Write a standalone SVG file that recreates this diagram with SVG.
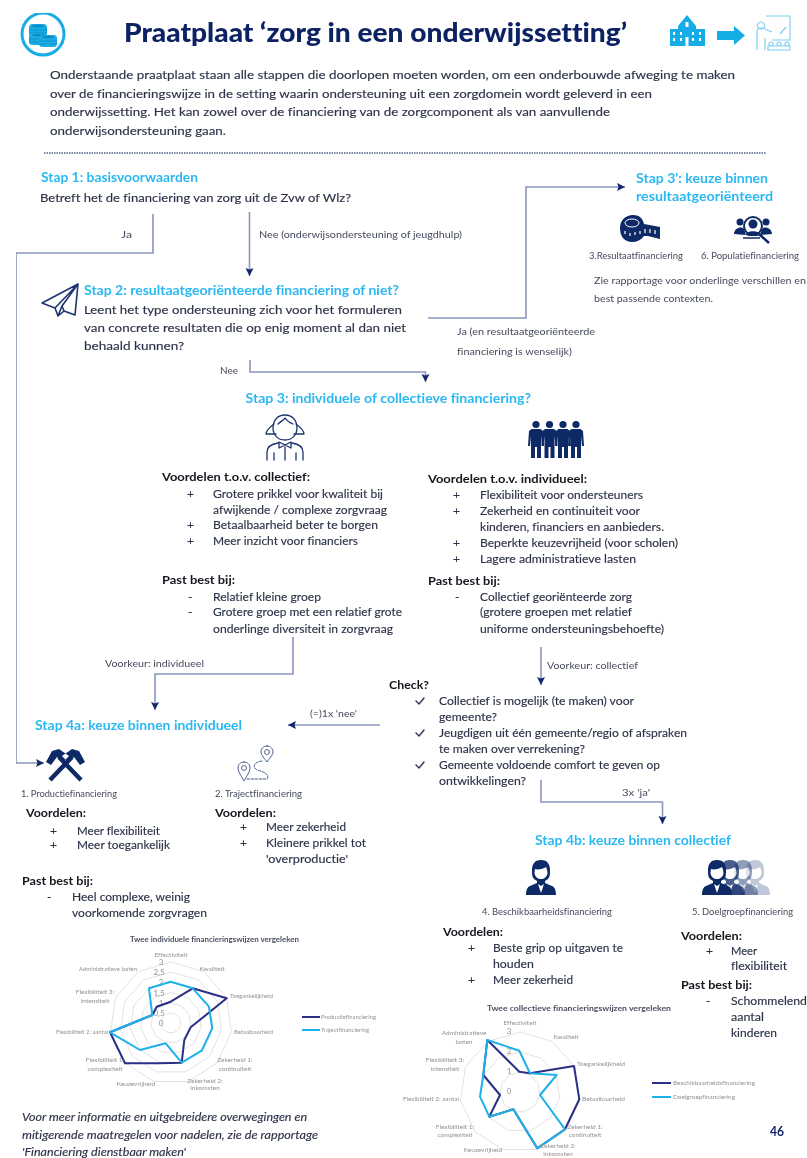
<svg xmlns="http://www.w3.org/2000/svg" xmlns:xlink="http://www.w3.org/1999/xlink" width="807" height="1158" viewBox="0 0 807 1158">
<style>
text{font-family:"Lato","Open Sans","Liberation Sans",sans-serif;fill:#2c3348;font-variant-ligatures:none}
.b{font-size:12px;stroke:#2c3348;stroke-width:.15}
.h{font-size:13.5px;font-weight:700;fill:#2cb8f3}
.s{font-size:12px;font-weight:700;fill:#14161f}
.l{font-size:9px;fill:#454a5c}
.t{font-size:7.5px;fill:#4a4f60}
.g{font-size:6.5px;fill:#929292}
.sc{font-size:8px;fill:#929292;text-anchor:middle}
.m{text-anchor:middle}
.ca{fill:none;stroke:#8a96bb;stroke-width:1.6;marker-end:url(#ah)}
.ring{fill:none;stroke:#e2e2e2;stroke-width:1;vector-effect:non-scaling-stroke}
.dk{fill:none;stroke:#2a2f85;stroke-width:2;stroke-linejoin:round}
.lt{fill:none;stroke:#1eb1ea;stroke-width:2;stroke-linejoin:round}
.nv{fill:#0f2a66}
.ol{fill:none;stroke:#1d3470;stroke-width:1.3;stroke-linejoin:round;stroke-linecap:round}
.cy{fill:#19ace6}
.co{fill:none;stroke:#7fd0f2;stroke-width:1.2}
</style>
<defs>
<filter id="soft" x="0" y="0" width="100%" height="100%" filterUnits="objectBoundingBox"><feGaussianBlur stdDeviation="0.4"/></filter>
<marker id="ah" markerUnits="userSpaceOnUse" markerWidth="9" markerHeight="9" refX="8" refY="4" orient="auto"><path d="M0 0L8 4L0 8L1.500 4Z" fill="#16286a"/></marker>
<polygon id="ring" class="ring" points="0,-1 .5406,-.8413 .9096,-.4154 .9898,.1423 .7557,.6549 .2817,.9595 -.2817,.9595 -.7557,.6549 -.9898,.1423 -.9096,-.4154 -.5406,-.8413"/>
<g id="fig"><circle cx="0" cy="4.500" r="3.600"/><path d="M-4.500 9H4.500L7 11L8 26H6L5 16V38H1V27H-1V38H-5V16L-6 26H-8L-7 11Z"/></g>
<g id="bust"><path d="M0 0C-7 0-9 5-9 10C-9 14-9 17-7 19L-4 21V23L-11 26C-14 27-15 31-15 35H15C15 31 14 27 11 26L4 23V21L7 19C9 17 9 14 9 10C9 5 7 0 0 0Z"/><path d="M-6 9C-3 10 2 9 5 7C6 9 6.500 11 6.500 13C6 17 3 19 0 19C-3 19-6 17-6.500 13Z" fill="#fff"/><path d="M-3 24L0 33L3 24L0 26Z" fill="#fff"/></g>
<g id="coin"><rect x="-9" y="-4" width="18" height="12" rx="3.500"/><ellipse cx="0" cy="-2" rx="6" ry="1.300" fill="#0e8cc4"/><path d="M-9 2H9M-9 5H9" stroke="#0e8cc4" stroke-width=".9"/></g>
</defs>
<rect width="807" height="1158" fill="#fff"/>
<g filter="url(#soft)">

<g id="logo">
<circle cx="43" cy="34" r="21" fill="none" stroke="#19ace6" stroke-width="3"/>
<use xlink:href="#coin" href="#coin" x="38" y="28" class="cy"/>
<use xlink:href="#coin" href="#coin" x="38" y="37" class="cy"/>
<use xlink:href="#coin" href="#coin" x="48" y="39" class="cy"/>
</g>
<g id="title"><text x="124" y="42" textLength="503" lengthAdjust="spacingAndGlyphs" style="font-size:27px;font-weight:900;fill:#0f2464">Praatplaat ‘zorg in een onderwijssetting’</text></g>
<g id="header-icons">
<path class="cy" d="M670 29H678V26L687 15L696 26V29H705V46H670Z"/>
<path d="M673 32h2v3h-2zM673 38h2v3h-2zM680 32h2v3h-2zM680 38h2v3h-2zM692 32h2v3h-2zM692 38h2v3h-2zM699 32h2v3h-2zM699 38h2v3h-2zM685.500 37h3v9h-3zM685.500 22h3v5h-3z" fill="#fff"/>
<path class="cy" d="M717 31H734V26L745 35.500L734 45V40H717Z"/>
<path class="co" d="M766 16H790V40H772M780 34L786 27M757 50V32C757 29 759 28 762 28C765 28 767 31 772 32M765 38V50M761 22a3.500 3.500 0 1 0 .01 0Z"/>
<path class="co" d="M768 46h22v4h-22zM771 46a2 2 0 1 1 .01 0M779 46a2 2 0 1 1 .01 0M787 46a2 2 0 1 1 .01 0"/>
</g>
<g id="intro">
<text class="b" x="50" y="79" textLength="685" lengthAdjust="spacingAndGlyphs">Onderstaande praatplaat staan alle stappen die doorlopen moeten worden, om een onderbouwde afweging te maken</text>
<text class="b" x="50" y="98" textLength="602" lengthAdjust="spacingAndGlyphs">over de financieringswijze in de setting waarin ondersteuning uit een zorgdomein wordt geleverd in een</text>
<text class="b" x="50" y="116" textLength="560" lengthAdjust="spacingAndGlyphs">onderwijssetting. Het kan zowel over de financiering van de zorgcomponent als van aanvullende</text>
<text class="b" x="50" y="135" textLength="176" lengthAdjust="spacingAndGlyphs">onderwijsondersteuning gaan.</text>
<line x1="44" y1="153" x2="766" y2="153" stroke="#7f8aab" stroke-width="2" stroke-dasharray="1.500 1"/>
</g>

<g id="connectors">
<path class="ca" d="M153 214V253H16V763H44"/>
<path class="ca" d="M249.500 212V276"/>
<path class="ca" d="M250 360V372H425.500V382"/>
<path class="ca" d="M428 318H526V187H625"/>
<path class="ca" d="M293 637V674H155V710"/>
<path class="ca" d="M541 647V685"/>
<path class="ca" d="M380 725H288"/>
<path class="ca" d="M541 780V802H662.500V824"/>
<text class="l" x="121" y="238" textLength="11" lengthAdjust="spacingAndGlyphs">Ja</text>
<text class="l" x="259" y="238" textLength="203" lengthAdjust="spacingAndGlyphs">Nee (onderwijsondersteuning of jeugdhulp)</text>
<text class="l" x="220" y="374" textLength="18" lengthAdjust="spacingAndGlyphs">Nee</text>
<text class="l" x="457" y="335" textLength="138" lengthAdjust="spacingAndGlyphs">Ja (en resultaatgeoriënteerde</text>
<text class="l" x="457" y="355" textLength="115" lengthAdjust="spacingAndGlyphs">financiering is wenselijk)</text>
<text class="l" x="105" y="667" textLength="99" lengthAdjust="spacingAndGlyphs">Voorkeur: individueel</text>
<text class="l" x="547" y="669" textLength="91" lengthAdjust="spacingAndGlyphs">Voorkeur: collectief</text>
<text class="l" x="310" y="717" textLength="47" lengthAdjust="spacingAndGlyphs">(=)1x 'nee'</text>
<text class="l" x="622" y="796" textLength="28" lengthAdjust="spacingAndGlyphs">3x 'ja'</text>
</g>

<g id="stap1">
<text class="h" x="41" y="182" textLength="157" lengthAdjust="spacingAndGlyphs">Stap 1: basisvoorwaarden</text>
<text class="b" x="40" y="202" textLength="311" lengthAdjust="spacingAndGlyphs">Betreft het de financiering van zorg uit de Zvw of Wlz?</text>
</g>
<g id="stap2">
<path class="ol" style="stroke-width:1.600" d="M78 284L42 303L55 308L58 316L64 311L75 315ZM78 284L55 308M78 284L62 306L64 311M62 306L58 316"/>
<text class="h" x="84" y="295" textLength="315" lengthAdjust="spacingAndGlyphs">Stap 2: resultaatgeoriënteerde financiering of niet?</text>
<text class="b" x="84" y="314" textLength="318" lengthAdjust="spacingAndGlyphs">Leent het type ondersteuning zich voor het formuleren</text>
<text class="b" x="84" y="332" textLength="322" lengthAdjust="spacingAndGlyphs">van concrete resultaten die op enig moment al dan niet</text>
<text class="b" x="84" y="350" textLength="100" lengthAdjust="spacingAndGlyphs">behaald kunnen?</text>
</g>
<g id="stap3accent">
<text class="h" x="636" y="183" textLength="132" lengthAdjust="spacingAndGlyphs">Stap 3': keuze binnen</text>
<text class="h" x="636" y="201" textLength="137" lengthAdjust="spacingAndGlyphs">resultaatgeoriënteerd</text>
<g id="tape">
<path class="nv" d="M620 228C620 220 626 215 633 215C640 215 643 219 644 224L660 227V239L648 236L644 236C641 240 637 242 632 242C625 242 620 237 620 228Z"/>
<ellipse cx="632" cy="223" rx="7" ry="4" fill="none" stroke="#fff" stroke-width="1"/>
<path d="M625 231v3M630 233v3M635 232v3M640 231v3M645 229v4M650 229v4M655 230v4" stroke="#fff" stroke-width="1.200"/>
</g>
<g id="populatie">
<circle cx="753" cy="226" r="9" fill="none" stroke="#0f2a66" stroke-width="2"/>
<circle cx="753" cy="224" r="4.500" class="nv"/>
<path class="nv" d="M746 235C746 230 760 230 760 235L757 236H749Z"/>
<circle cx="740" cy="222" r="3.500" class="nv"/><circle cx="766" cy="222" r="3.500" class="nv"/>
<path class="nv" d="M734 234C734 227 743 226 744 229L746 235ZM772 234C772 227 763 226 762 229L760 235Z"/>
<path d="M759 234L769 243" stroke="#0f2a66" stroke-width="2.500"/>
<path d="M743 238H760" stroke="#0f2a66" stroke-width="1.500"/>
</g>
<text class="l" x="589" y="259" textLength="94" lengthAdjust="spacingAndGlyphs">3.Resultaatfinanciering</text>
<text class="l" x="701" y="259" textLength="98" lengthAdjust="spacingAndGlyphs">6. Populatiefinanciering</text>
<text class="l" x="594" y="284" style="font-size:10px" textLength="212" lengthAdjust="spacingAndGlyphs">Zie rapportage voor onderlinge verschillen en</text>
<text class="l" x="594" y="302" style="font-size:10px" textLength="119" lengthAdjust="spacingAndGlyphs">best passende contexten.</text>
</g>
<g id="stap3">
<text class="h" x="245.500" y="403" textLength="285.500" lengthAdjust="spacingAndGlyphs">Stap 3: individuele of collectieve financiering?</text>
</g>
<g id="collectief-links">
<g id="persoon">
<path class="ol" d="M273 428C273 420 278 415 285 415C292 415 297 420 297 428C297 435 292 440 285 440C278 440 273 435 273 428Z"/>
<path class="ol" d="M274 424C270 427 266 431 266 434H276M296 424C300 427 304 431 304 434H294M278 424C281 421 284 420 285 418C287 421 290 423 293 424"/>
<path class="ol" d="M267 460V452C267 447 272 444 278 443M303 460V452C303 447 298 444 292 443M274 453V460M296 453V460M285 447V460M279 442L285 445L291 442V448L285 445L279 448Z"/>
</g>
<text class="s" x="162" y="481" textLength="148" lengthAdjust="spacingAndGlyphs">Voordelen t.o.v. collectief:</text>
<text class="b" x="187" y="498">+</text>
<text class="b" x="213" y="498" textLength="170" lengthAdjust="spacingAndGlyphs">Grotere prikkel voor kwaliteit bij</text>
<text class="b" x="213" y="514" textLength="174" lengthAdjust="spacingAndGlyphs">afwijkende / complexe zorgvraag</text>
<text class="b" x="187" y="529">+</text>
<text class="b" x="213" y="529" textLength="165" lengthAdjust="spacingAndGlyphs">Betaalbaarheid beter te borgen</text>
<text class="b" x="187" y="545">+</text>
<text class="b" x="213" y="545" textLength="145" lengthAdjust="spacingAndGlyphs">Meer inzicht voor financiers</text>
<text class="s" x="162" y="584" textLength="73" lengthAdjust="spacingAndGlyphs">Past best bij:</text>
<text class="b" x="188" y="601">-</text>
<text class="b" x="213" y="601" textLength="108" lengthAdjust="spacingAndGlyphs">Relatief kleine groep</text>
<text class="b" x="188" y="616">-</text>
<text class="b" x="213" y="616" textLength="189" lengthAdjust="spacingAndGlyphs">Grotere groep met een relatief grote</text>
<text class="b" x="213" y="633" textLength="180" lengthAdjust="spacingAndGlyphs">onderlinge diversiteit in zorgvraag</text>
</g>
<g id="collectief-rechts">
<g id="groep" class="nv">
<use xlink:href="#fig" href="#fig" x="536" y="420"/>
<use xlink:href="#fig" href="#fig" x="549.500" y="420"/>
<use xlink:href="#fig" href="#fig" x="563" y="420"/>
<use xlink:href="#fig" href="#fig" x="576" y="420"/>
</g>
<text class="s" x="428" y="483" textLength="159" lengthAdjust="spacingAndGlyphs">Voordelen t.o.v. individueel:</text>
<text class="b" x="453" y="499">+</text>
<text class="b" x="480" y="499" textLength="163" lengthAdjust="spacingAndGlyphs">Flexibiliteit voor ondersteuners</text>
<text class="b" x="453" y="515">+</text>
<text class="b" x="480" y="515" textLength="160" lengthAdjust="spacingAndGlyphs">Zekerheid en continuiteit voor</text>
<text class="b" x="480" y="531" textLength="184" lengthAdjust="spacingAndGlyphs">kinderen, financiers en aanbieders.</text>
<text class="b" x="453" y="547">+</text>
<text class="b" x="480" y="547" textLength="198" lengthAdjust="spacingAndGlyphs">Beperkte keuzevrijheid (voor scholen)</text>
<text class="b" x="453" y="563">+</text>
<text class="b" x="480" y="563" textLength="156" lengthAdjust="spacingAndGlyphs">Lagere administratieve lasten</text>
<text class="s" x="428" y="585" textLength="72" lengthAdjust="spacingAndGlyphs">Past best bij:</text>
<text class="b" x="455" y="601">-</text>
<text class="b" x="480" y="601" textLength="152" lengthAdjust="spacingAndGlyphs">Collectief georiënteerde zorg</text>
<text class="b" x="480" y="616" textLength="152" lengthAdjust="spacingAndGlyphs">(grotere groepen met relatief</text>
<text class="b" x="480" y="633" textLength="184" lengthAdjust="spacingAndGlyphs">uniforme ondersteuningsbehoefte)</text>
</g>
<g id="check">
<text class="s" x="389" y="689" textLength="40" lengthAdjust="spacingAndGlyphs">Check?</text>
<path class="ol" style="stroke-width:1.400;stroke:#30364f" d="M416 701L419 704L424 698M416 733L419 736L424 730M416 765L419 768L424 762"/>
<text class="b" x="439" y="705" textLength="195" lengthAdjust="spacingAndGlyphs">Collectief is mogelijk (te maken) voor</text>
<text class="b" x="439" y="721" textLength="58" lengthAdjust="spacingAndGlyphs">gemeente?</text>
<text class="b" x="439" y="737" textLength="248" lengthAdjust="spacingAndGlyphs">Jeugdigen uit één gemeente/regio of afspraken</text>
<text class="b" x="439" y="753" textLength="146" lengthAdjust="spacingAndGlyphs">te maken over verrekening?</text>
<text class="b" x="439" y="769" textLength="221" lengthAdjust="spacingAndGlyphs">Gemeente voldoende comfort te geven op</text>
<text class="b" x="439" y="785" textLength="87" lengthAdjust="spacingAndGlyphs">ontwikkelingen?</text>
</g>
<g id="stap4a">
<text class="h" x="35" y="730" textLength="207" lengthAdjust="spacingAndGlyphs">Stap 4a: keuze binnen individueel</text>
<g id="hamers">
<path d="M50 780L72 757M81 780L59 757" stroke="#0f2a66" stroke-width="4.500"/>
<path class="nv" d="M62 756L72 749L79 751L85 762L80 765L74 757L68 762ZM69 756L59 749L52 751L46 762L51 765L57 757L63 762Z"/>
</g>
<g id="kaart" style="opacity:.8">
<path class="ol" style="stroke-width:1" d="M267 746C263 746 261 749 261 752C261 755 265 759 267 762C269 759 273 755 273 752C273 749 271 746 267 746ZM244 762C240 762 238 765 238 768C238 772 242 777 244 781C246 777 250 772 250 768C250 765 248 762 244 762Z"/>
<path class="ol" style="stroke-width:1;stroke-dasharray:2.500 1.500" d="M262 761C254 762 252 767 257 770C265 772 270 775 267 779H246"/>
<circle cx="244" cy="768" r="2.500" class="ol" style="stroke-width:.9"/><circle cx="267" cy="752" r="2.500" class="ol" style="stroke-width:.9"/>
</g>
<text class="l" x="21" y="797" textLength="96" lengthAdjust="spacingAndGlyphs">1. Productiefinanciering</text>
<text class="l" x="215" y="797" textLength="87" lengthAdjust="spacingAndGlyphs">2. Trajectfinanciering</text>
<text class="s" x="26" y="817" textLength="60" lengthAdjust="spacingAndGlyphs">Voordelen:</text>
<text class="b" x="50" y="835">+</text>
<text class="b" x="77" y="835" textLength="83" lengthAdjust="spacingAndGlyphs">Meer flexibiliteit</text>
<text class="b" x="50" y="849">+</text>
<text class="b" x="77" y="849" textLength="93" lengthAdjust="spacingAndGlyphs">Meer toegankelijk</text>
<text class="s" x="215" y="817" textLength="61" lengthAdjust="spacingAndGlyphs">Voordelen:</text>
<text class="b" x="240" y="831">+</text>
<text class="b" x="266" y="831" textLength="80" lengthAdjust="spacingAndGlyphs">Meer zekerheid</text>
<text class="b" x="240" y="847">+</text>
<text class="b" x="266" y="847" textLength="100" lengthAdjust="spacingAndGlyphs">Kleinere prikkel tot</text>
<text class="b" x="266" y="863" textLength="82" lengthAdjust="spacingAndGlyphs">'overproductie'</text>
<text class="s" x="22" y="885" textLength="71" lengthAdjust="spacingAndGlyphs">Past best bij:</text>
<text class="b" x="47" y="901">-</text>
<text class="b" x="72" y="901" textLength="118" lengthAdjust="spacingAndGlyphs">Heel complexe, weinig</text>
<text class="b" x="72" y="917" textLength="135" lengthAdjust="spacingAndGlyphs">voorkomende zorgvragen</text>
</g>
<g id="stap4b">
<text class="h" x="535" y="845" textLength="196" lengthAdjust="spacingAndGlyphs">Stap 4b: keuze binnen collectief</text>
<g class="nv"><use xlink:href="#bust" href="#bust" x="541" y="860"/></g>
<g class="nv">
<use xlink:href="#bust" href="#bust" x="755" y="860" opacity=".25"/>
<use xlink:href="#bust" href="#bust" x="743" y="860" opacity=".45"/>
<use xlink:href="#bust" href="#bust" x="730" y="860" opacity=".75"/>
<use xlink:href="#bust" href="#bust" x="717" y="860"/>
</g>
<text class="l" x="482" y="915" textLength="130" lengthAdjust="spacingAndGlyphs">4. Beschikbaarheidsfinanciering</text>
<text class="l" x="692" y="915" textLength="101" lengthAdjust="spacingAndGlyphs">5. Doelgroepfinanciering</text>
<text class="s" x="443" y="936" textLength="60" lengthAdjust="spacingAndGlyphs">Voordelen:</text>
<text class="b" x="468" y="952">+</text>
<text class="b" x="493" y="952" textLength="130" lengthAdjust="spacingAndGlyphs">Beste grip op uitgaven te</text>
<text class="b" x="493" y="968" textLength="41" lengthAdjust="spacingAndGlyphs">houden</text>
<text class="b" x="468" y="984">+</text>
<text class="b" x="493" y="984" textLength="80" lengthAdjust="spacingAndGlyphs">Meer zekerheid</text>
<text class="s" x="681" y="940" textLength="61" lengthAdjust="spacingAndGlyphs">Voordelen:</text>
<text class="b" x="706" y="955">+</text>
<text class="b" x="731" y="955" textLength="26" lengthAdjust="spacingAndGlyphs">Meer</text>
<text class="b" x="731" y="970" textLength="56" lengthAdjust="spacingAndGlyphs">flexibiliteit</text>
<text class="s" x="681" y="989" textLength="71" lengthAdjust="spacingAndGlyphs">Past best bij:</text>
<text class="b" x="706" y="1005">-</text>
<text class="b" x="731" y="1005" textLength="76" lengthAdjust="spacingAndGlyphs">Schommelend</text>
<text class="b" x="731" y="1021" textLength="33" lengthAdjust="spacingAndGlyphs">aantal</text>
<text class="b" x="731" y="1037" textLength="46" lengthAdjust="spacingAndGlyphs">kinderen</text>
</g>

<g id="grafiek-individueel">
<text class="t" x="130" y="942" textLength="169" lengthAdjust="spacingAndGlyphs" style="font-weight:700">Twee individuele financieringswijzen vergeleken</text>
<use xlink:href="#ring" href="#ring" transform="translate(171 1023) scale(61)"/>
<use xlink:href="#ring" href="#ring" transform="translate(171 1023) scale(51)"/>
<use xlink:href="#ring" href="#ring" transform="translate(171 1023) scale(41)"/>
<use xlink:href="#ring" href="#ring" transform="translate(171 1023) scale(30.500)"/>
<use xlink:href="#ring" href="#ring" transform="translate(171 1023) scale(20)"/>
<use xlink:href="#ring" href="#ring" transform="translate(171 1023) scale(10)"/>
<text class="sc" x="161" y="965">3</text><text class="sc" x="159" y="975">2,5</text><text class="sc" x="161" y="985">2</text><text class="sc" x="159" y="996">1,5</text><text class="sc" x="161" y="1006">1</text><text class="sc" x="159" y="1016">0,5</text><text class="sc" x="161" y="1026">0</text>
<polygon class="dk" points="226.700,998.300 192.700,988.300 170.700,1001.700 156.700,1006.700 152.300,1015 110,1032.300 125,1063.300 159,1063.300 181.700,1062.700 184.300,1040 190.700,1027.300"/>
<polygon class="lt" points="170.700,981.700 192.700,988.300 209,1006.700 212.300,1028.300 201.700,1050.700 181.700,1062.700 165.700,1043.300 140,1050 110,1032.300 152.300,1015 149,988.300"/>
<text class="g m" x="171" y="957">Effectiviteit</text>
<text class="g m" x="212" y="971">Kwaliteit</text>
<text class="g" x="230" y="998" textLength="43" lengthAdjust="spacingAndGlyphs">Toegankelijkheid</text>
<text class="g" x="234" y="1034" textLength="39" lengthAdjust="spacingAndGlyphs">Betaalbaarheid</text>
<text class="g m" x="235" y="1062">Zekerheid 1:</text><text class="g m" x="235" y="1071">continuïteit</text>
<text class="g m" x="205" y="1083">Zekerheid 2:</text><text class="g m" x="205" y="1090">inkomsten</text>
<text class="g m" x="136" y="1086">Keuzevrijheid</text>
<text class="g m" x="105" y="1062">Flexibiliteit 1:</text><text class="g m" x="105" y="1071">complexiteit</text>
<text class="g" x="56" y="1034" textLength="52" lengthAdjust="spacingAndGlyphs">Flexibiliteit 2: aantal</text>
<text class="g m" x="95" y="994">Flexibiliteit 3:</text><text class="g m" x="95" y="1003">intensiteit</text>
<text class="g" x="79" y="971" textLength="58" lengthAdjust="spacingAndGlyphs">Administratieve lasten</text>
<line x1="302" y1="1017" x2="320" y2="1017" class="dk"/>
<text class="g" x="321" y="1019" textLength="55" lengthAdjust="spacingAndGlyphs">Productiefinanciering</text>
<line x1="302" y1="1030" x2="320" y2="1030" class="lt"/>
<text class="g" x="321" y="1032" textLength="48" lengthAdjust="spacingAndGlyphs">Trajectfinanciering</text>
</g>

<g id="grafiek-collectief">
<text class="t" x="487" y="1011" textLength="184" lengthAdjust="spacingAndGlyphs" style="font-weight:700">Twee collectieve financieringswijzen vergeleken</text>
<use xlink:href="#ring" href="#ring" transform="translate(520 1092) scale(60)"/>
<use xlink:href="#ring" href="#ring" transform="translate(520 1092) scale(40)"/>
<use xlink:href="#ring" href="#ring" transform="translate(520 1092) scale(20)"/>
<text class="sc" x="509" y="1034">3</text><text class="sc" x="509" y="1054">2</text><text class="sc" x="509" y="1074">1</text><text class="sc" x="509" y="1094">0</text>
<polygon class="dk" points="487.300,1040 519.300,1071.700 530,1073.300 574,1066 579.300,1099.300 565,1129.300 537.300,1148.300 513.300,1109.300 489.300,1116.700 500,1095 483.300,1075"/>
<polygon class="lt" points="487.300,1040 519.300,1050.700 530,1073.300 556.700,1075 540,1095 565,1129.300 537.300,1148.300 513.300,1109.300 489.300,1116.700 480,1096.700 483.300,1075"/>
<text class="g m" x="520" y="1025">Effectiviteit</text>
<text class="g m" x="566" y="1039">Kwaliteit</text>
<text class="g" x="577" y="1066" textLength="48" lengthAdjust="spacingAndGlyphs">Toegankelijkheid</text>
<text class="g" x="582" y="1101" textLength="43" lengthAdjust="spacingAndGlyphs">Betaalbaarheid</text>
<text class="g m" x="585" y="1129">Zekerheid 1:</text><text class="g m" x="585" y="1137">continuïteit</text>
<text class="g m" x="558" y="1148">Zekerheid 2:</text><text class="g m" x="558" y="1156">inkomsten</text>
<text class="g m" x="483" y="1152">Keuzevrijheid</text>
<text class="g m" x="455" y="1129">Flexibiliteit 1:</text><text class="g m" x="455" y="1137">complexiteit</text>
<text class="g" x="403" y="1101" textLength="56" lengthAdjust="spacingAndGlyphs">Flexibiliteit 2: aantal</text>
<text class="g m" x="445" y="1062">Flexibiliteit 3:</text><text class="g m" x="445" y="1071">intensiteit</text>
<text class="g m" x="464" y="1035">Administratieve</text><text class="g m" x="464" y="1044">lasten</text>
<line x1="652" y1="1083" x2="671" y2="1083" class="dk"/>
<text class="g" x="673" y="1085" textLength="82" lengthAdjust="spacingAndGlyphs">Beschikbaarheidsfinanciering</text>
<line x1="652" y1="1097" x2="671" y2="1097" class="lt"/>
<text class="g" x="673" y="1099" textLength="62" lengthAdjust="spacingAndGlyphs">Doelgroepfinanciering</text>
</g>

<g id="voetnoot">
<text class="b" x="22" y="1121" textLength="285" lengthAdjust="spacingAndGlyphs" style="font-style:italic">Voor meer informatie en uitgebreidere overwegingen en</text>
<text class="b" x="22" y="1139" textLength="296" lengthAdjust="spacingAndGlyphs" style="font-style:italic">mitigerende maatregelen voor nadelen, zie de rapportage</text>
<text class="b" x="22" y="1156" textLength="164" lengthAdjust="spacingAndGlyphs" style="font-style:italic">'Financiering dienstbaar maken'</text>
<text x="770" y="1136" textLength="14" lengthAdjust="spacingAndGlyphs" style="font-size:13px;font-weight:700;fill:#14246e">46</text>
</g>
</g>
</svg>
